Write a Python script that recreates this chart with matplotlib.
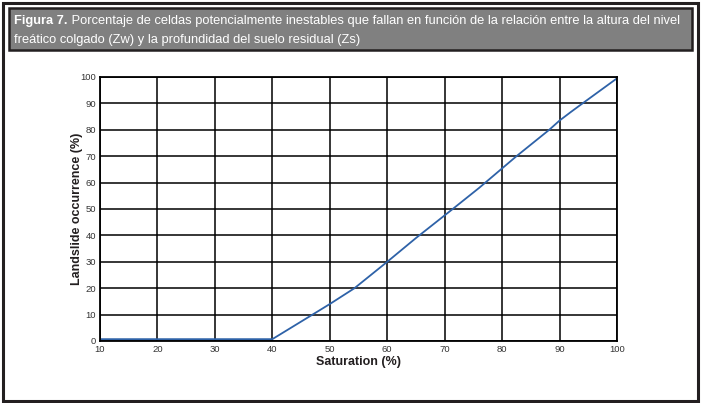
import matplotlib
matplotlib.use("Agg")
import matplotlib.pyplot as plt
from matplotlib.patches import Rectangle

# data
saturation = [10, 40, 47, 50, 54.3, 60, 65, 71.4, 76, 82.5, 88.2, 90, 92, 94, 100]
occurrence = [0.7, 0.7, 10, 14, 20, 30, 39, 50, 58, 70, 80, 83.5, 86.8, 90, 99.5]

xticks = [10, 20, 30, 40, 50, 60, 70, 80, 90, 100]
yticks = [0, 10, 20, 30, 40, 50, 60, 70, 80, 90, 100]

title_bold = "Figura 7."
title_rest = " Porcentaje de celdas potencialmente inestables que fallan en función de la relación entre la altura del nivel"
title_line2 = "freático colgado (Zw) y la profundidad del suelo residual (Zs)"

W, H = 701, 403
fig = plt.figure(figsize=(W / 100, H / 100), dpi=100)
plt.rcParams["font.family"] = ["Liberation Sans", "DejaVu Sans"]

# outer frame
fig.patches.append(Rectangle((3 / W, 2 / H), 695 / W, 398 / H, transform=fig.transFigure,
                             fill=False, edgecolor="#231f20", linewidth=2.2))
# header band
fig.patches.append(Rectangle((9 / W, (H - 50) / H), 683 / W, 42 / H, transform=fig.transFigure,
                             facecolor="#808080", edgecolor="#231f20", linewidth=1.8))

# fit the first title line to the header width
fs = 10
renderer = fig.canvas.get_renderer()
p1 = fig.text(0, 0, title_bold, fontsize=fs, fontweight="bold")
p2 = fig.text(0, 0, title_rest, fontsize=fs)
wid = p1.get_window_extent(renderer).width + p2.get_window_extent(renderer).width
p1.remove()
p2.remove()
fs = fs * 673 / wid

t = fig.text(14 / W, 1 - 21 / H, title_bold, color="white", fontsize=fs,
             fontweight="bold", va="center", ha="left")
bb = t.get_window_extent(renderer)
fig.text(bb.x1 / W, 1 - 21 / H, title_rest, color="white", fontsize=fs,
         va="center", ha="left")
fig.text(14 / W, 1 - 40 / H, title_line2, color="white", fontsize=fs,
         va="center", ha="left")

ax = fig.add_axes([100 / W, (H - 341) / H, 517 / W, 264 / H])
ax.plot(saturation, occurrence, color="#2e62a8", linewidth=1.3)
ax.set_xlim(10, 100)
ax.set_ylim(0, 100)
ax.set_xticks(xticks)
ax.set_yticks(yticks)
ax.grid(True, color="black", linewidth=1.1)
for s in ax.spines.values():
    s.set_linewidth(1.3)
ax.tick_params(length=0, labelsize=6.8, colors="#333333", pad=3)
ax.set_xlabel("Saturation (%)", fontsize=9, fontweight="bold", color="#231f20", labelpad=1)
ax.set_ylabel("Landslide occurrence (%)", fontsize=9, fontweight="bold", color="#231f20", labelpad=-2)

fig.savefig("out.png", dpi=100)
